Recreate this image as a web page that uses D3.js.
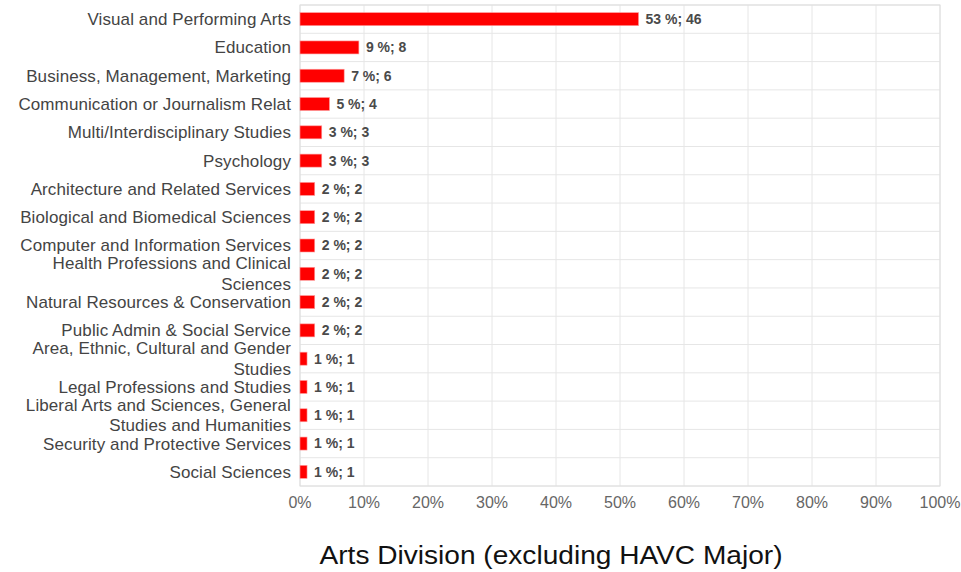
<!DOCTYPE html>
<html>
<head>
<meta charset="utf-8">
<script src="https://cdn.jsdelivr.net/npm/d3@7"></script>
<style>
  body { margin: 0; background: #fff; }
  svg { font-family: Arial, "Liberation Sans", sans-serif; }
</style>
</head>
<body>
<div class="main-container"></div>
<script>
const categories = [
  "Visual and Performing Arts",
  "Education",
  "Business, Management, Marketing",
  "Communication or Journalism Relat",
  "Multi/Interdisciplinary Studies",
  "Psychology",
  "Architecture and Related Services",
  "Biological and Biomedical Sciences",
  "Computer and Information Services",
  "Health Professions and Clinical|Sciences",
  "Natural Resources & Conservation",
  "Public Admin & Social Service",
  "Area, Ethnic, Cultural and Gender|Studies",
  "Legal Professions and Studies",
  "Liberal Arts and Sciences, General|Studies and Humanities",
  "Security and Protective Services",
  "Social Sciences"
];
const percents = [52.9, 9.2, 6.9, 4.6, 3.4, 3.4, 2.3, 2.3, 2.3, 2.3, 2.3, 2.3, 1.1, 1.1, 1.1, 1.1, 1.1];
const counts = [46, 8, 6, 4, 3, 3, 2, 2, 2, 2, 2, 2, 1, 1, 1, 1, 1];
const ticks = [0, 10, 20, 30, 40, 50, 60, 70, 80, 90, 100];
const title = "Arts Division (excluding HAVC Major)";

const W = 961, H = 572;
const margin = {top: 5, right: 21, bottom: 86, left: 300},
  width = W - margin.left - margin.right,
  height = H - margin.top - margin.bottom;

const root = d3.select(".main-container")
  .append("svg")
  .attr("width", W)
  .attr("height", H);

const svg = root.append("g")
  .attr("transform", "translate(" + margin.left + "," + margin.top + ")");

const x = d3.scaleLinear().domain([0, 100]).range([0, width]);
const y = d3.scaleBand().domain(d3.range(categories.length)).range([0, height]);

// grid
svg.append("g")
  .selectAll("line")
  .data(ticks)
  .join("line")
  .attr("x1", d => x(d)).attr("x2", d => x(d))
  .attr("y1", 0).attr("y2", height)
  .attr("stroke", "#e6e6e6");

svg.append("g")
  .selectAll("line")
  .data(d3.range(categories.length + 1))
  .join("line")
  .attr("x1", 0).attr("x2", width)
  .attr("y1", d => d * y.step()).attr("y2", d => d * y.step())
  .attr("stroke", "#e6e6e6");

svg.append("rect")
  .attr("width", width).attr("height", height)
  .attr("fill", "none").attr("stroke", "#dedede");

// bars
svg.append("g")
  .selectAll("rect")
  .data(percents)
  .join("rect")
  .attr("x", x(0))
  .attr("y", (d, i) => y(i) + y.bandwidth() / 2 - 6.5)
  .attr("width", d => x(d) - x(0))
  .attr("height", 13)
  .attr("fill", "#ff0000")
  .attr("stroke", "#ff9a9a")
  .attr("stroke-width", 0.6);

// value labels
svg.append("g")
  .selectAll("text")
  .data(percents)
  .join("text")
  .attr("x", d => x(d) + 7)
  .attr("y", (d, i) => y(i) + y.bandwidth() / 2)
  .attr("dy", "0.35em")
  .attr("font-size", 14)
  .attr("font-weight", "bold")
  .attr("fill", "#4a4a4a")
  .text((d, i) => Math.round(d) + " %; " + counts[i]);

// category labels
const lab = svg.append("g")
  .selectAll("text")
  .data(categories)
  .join("text")
  .attr("text-anchor", "end")
  .attr("font-size", 17)
  .attr("letter-spacing", 0.1)
  .attr("fill", "#444");

lab.each(function(d, i) {
  const lines = d.split("|");
  const cy = y(i) + y.bandwidth() / 2;
  d3.select(this).selectAll("tspan")
    .data(lines)
    .join("tspan")
    .attr("x", -9)
    .attr("y", (l, j) => cy + (j - (lines.length - 1) / 2) * 20.5)
    .attr("dy", "0.35em")
    .text(l => l);
});

// x axis labels
svg.append("g")
  .selectAll("text")
  .data(ticks)
  .join("text")
  .attr("x", d => x(d))
  .attr("y", height + 16)
  .attr("dy", "0.35em")
  .attr("text-anchor", "middle")
  .attr("font-size", 16)
  .attr("fill", "#666")
  .text(d => d + "%");

root.append("text")
  .attr("x", 551)
  .attr("y", 555)
  .attr("dy", "0.35em")
  .attr("text-anchor", "middle")
  .attr("font-size", 25)
  .attr("textLength", 463)
  .attr("lengthAdjust", "spacingAndGlyphs")
  .attr("fill", "#111")
  .text(title);
</script>
</body>
</html>
